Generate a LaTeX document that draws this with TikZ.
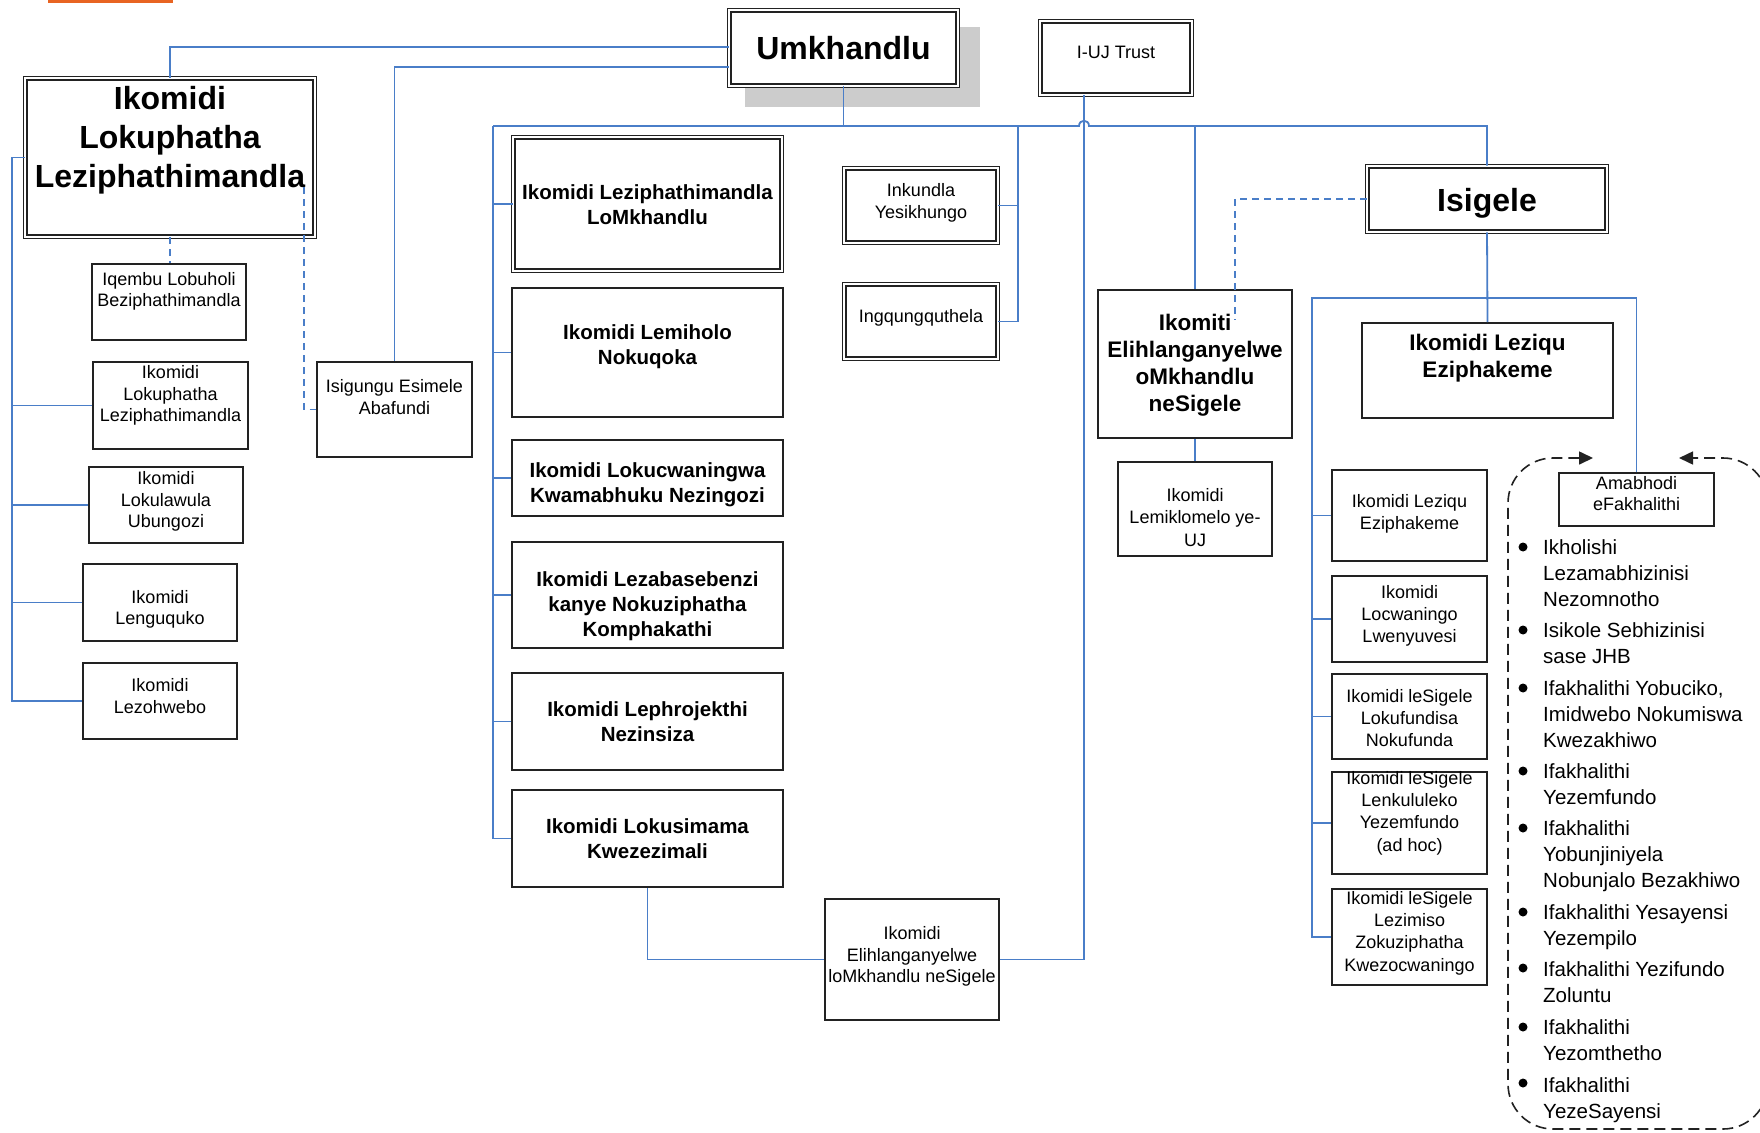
\documentclass[tikz,border=0pt]{standalone}
\usepackage{fontspec}
\setmainfont{Liberation Sans}
\usetikzlibrary{arrows.meta}
\definecolor{lnc}{RGB}{74,126,200}
\definecolor{boxc}{RGB}{34,34,34}
\definecolor{shad}{RGB}{204,204,204}
\definecolor{orng}{RGB}{232,100,34}
\tikzset{
  sbox/.style={rectangle, draw=boxc, line width=1.8pt, fill=white, inner sep=0pt},
  dbox/.style={rectangle, draw=boxc, line width=1.2pt, double=white, double distance=2.2pt, fill=white, inner sep=0pt},
  conn/.style={draw=lnc, line width=1.8pt},
  dconn/.style={conn, dash pattern=on 7pt off 5pt},
  dashloop/.style={draw=boxc, line width=1.6pt, dash pattern=on 11pt off 6pt, rounded corners=45pt},
  regt/.style={font=\fontsize{18}{21.5}\selectfont, align=center, inner sep=0pt},
  regr/.style={font=\fontsize{18}{22.3}\selectfont, align=center, inner sep=0pt},
  midb/.style={font=\bfseries\fontsize{20.5}{25}\selectfont, align=center, inner sep=0pt},
  rb/.style={font=\bfseries\fontsize{22.5}{27}\selectfont, align=center, inner sep=0pt},
  ttl/.style={font=\bfseries\fontsize{32}{39}\selectfont, align=center, inner sep=0pt},
  lst/.style={font=\fontsize{20.5}{26}\selectfont, align=left, anchor=west, inner sep=0pt},
  bul/.style={circle, fill=black, inner sep=0pt, minimum size=9pt}
}
\newcommand\mkbox[8]{%
  \node[sbox, minimum width={#4-#2-1.8}, minimum height={#5-#3-1.8}] (#1) at ({(#2+#4)/2},{(#3+#5)/2}) {};
  \node[#6] (#1-t) at ({(#2+#4)/2},#7) {#8};}
\newcommand\mkdbox[8]{%
  \node[dbox, minimum width={#4-#2-4.6}, minimum height={#5-#3-4.6}] (#1) at ({(#2+#4)/2},{(#3+#5)/2}) {};
  \node[#6] (#1-t) at ({(#2+#4)/2},#7) {#8};}
\begin{document}
\begin{tikzpicture}[x=1pt,y=-1pt]
\fill[white] (0,0) rectangle (1760,1132);
\useasboundingbox (0,0) rectangle (1760,1132);
\clip (0,0) rectangle (1760,1132);
\fill[orng] (48,0) rectangle (173,3);
\fill[shad] (745,27) rectangle (980,107);

% left group
\mkdbox{big}{23}{76}{317}{239}{ttl}{140.4}{Ikomidi\\Lokuphatha\\Leziphathimandla}
\mkbox{iqembu}{91}{263}{247}{341}{regt}{291.4}{Iqembu Lobuholi\\Beziphathimandla}
\mkbox{lokup}{92}{361}{249}{450}{regt}{395.4}{Ikomidi\\Lokuphatha\\Leziphathimandla}
\mkbox{lokul}{88}{466}{244}{544}{regt}{501.4}{Ikomidi\\Lokulawula\\Ubungozi}
\mkbox{lengu}{82}{563}{238}{642}{regt}{609.4}{Ikomidi\\Lenguquko}
\mkbox{lezoh}{82}{662}{238}{740}{regt}{696}{Ikomidi\\Lezohwebo}
\mkbox{isigu}{316}{361}{473}{458}{regt}{397}{Isigungu Esimele\\Abafundi}

% middle group
\mkdbox{umk}{727}{8}{960}{88}{ttl}{48}{Umkhandlu}
\mkdbox{iuj}{1038}{19}{1194}{97}{regt}{52}{I-UJ Trust}
\mkdbox{lomkh}{511}{135}{784}{273}{midb}{205}{Ikomidi Leziphathimandla\\LoMkhandlu}
\mkbox{lemih}{511}{287}{784}{418}{midb}{347}{Ikomidi Lemiholo\\Nokuqoka}
\mkbox{lokuc}{511}{439}{784}{517}{midb}{485}{Ikomidi Lokucwaningwa\\Kwamabhuku Nezingozi}
\mkbox{lezab}{511}{541}{784}{649}{midb}{606}{Ikomidi Lezabasebenzi\\kanye Nokuziphatha\\Komphakathi}
\mkbox{lephr}{511}{672}{784}{771}{midb}{721.5}{Ikomidi Lephrojekthi\\Nezinsiza}
\mkbox{lokus}{511}{789}{784}{888}{midb}{838.5}{Ikomidi Lokusimama\\Kwezezimali}
\mkdbox{inkun}{842}{166}{1000}{245}{regt}{203}{Inkundla\\Yesikhungo}
\mkdbox{ingqu}{842}{282}{1000}{361}{regt}{318}{Ingqungquthela}
\mkbox{elihl}{824}{898}{1000}{1021}{regt}{956.4}{Ikomidi\\Elihlanganyelwe\\loMkhandlu neSigele}

% right group
\mkdbox{isige}{1365}{164}{1609}{234}{ttl}{203.4}{Isigele}
\mkbox{ikomt}{1097}{289}{1293}{439}{rb}{365.4}{Ikomiti\\Elihlanganyelwe\\oMkhandlu\\neSigele}
\mkbox{lzqb}{1361}{322}{1614}{419}{rb}{358}{Ikomidi Leziqu\\Eziphakeme}
\mkbox{lemik}{1117}{461}{1273}{557}{regr}{517.5}{Ikomidi\\Lemiklomelo ye-\\UJ}
\mkbox{rqa}{1331}{469}{1488}{562}{regr}{514}{Ikomidi Leziqu\\Eziphakeme}
\mkbox{rqb}{1331}{575}{1488}{663}{regr}{616}{Ikomidi\\Locwaningo\\Lwenyuvesi}
\mkbox{rqc}{1331}{673}{1488}{760}{regr}{718}{Ikomidi leSigele\\Lokufundisa\\Nokufunda}
\mkbox{rqd}{1331}{771}{1488}{875}{regr}{813}{Ikomidi leSigele\\Lenkululeko\\Yezemfundo\\(ad hoc)}
\mkbox{rqe}{1331}{888}{1488}{986}{regr}{933}{Ikomidi leSigele\\Lezimiso\\Zokuziphatha\\Kwezocwaningo}
\mkbox{amab}{1558}{472}{1715}{527}{regt}{493.5}{Amabhodi\\eFakhalithi}

% coordinates
\coordinate (l1) at (0,47);
\coordinate (l2) at (0,67);
\coordinate (lb) at (12,0);
\coordinate (mb) at (493,126);
\coordinate (ib) at (1018,126);
\coordinate (rb) at (1312,298);
\coordinate (dsA) at (304,187);
\coordinate (dsB) at (1235,320);

% left connectors
\draw[conn] (umk.west |- l1) -| (big.north);
\draw[conn] (umk.west |- l2) -| (isigu.north);
\draw[conn] (big.west) -| (lb |- lezoh.west) -- (lezoh.west);
\foreach \n in {lokup,lokul,lengu} {\draw[conn] (lb |- \n.west) -- (\n.west);}
\draw[dconn] (big.south) -- (big.south |- iqembu.north);
\draw[dconn] (dsA) |- (isigu.west);

% middle connectors
\draw[conn] (umk.south) -- (umk.south |- mb);
\draw[conn] (mb) -- (1079,126) .. controls (1079,119) and (1089,119) .. (1089,126) -- (isige.north |- mb) -- (isige.north);
\draw[conn] (mb) -- (mb |- lokus.west) -- (lokus.west);
\foreach \n in {lomkh,lemih,lokuc,lezab,lephr} {\draw[conn] (mb |- \n.west) -- (\n.west);}
\draw[conn] (ib) |- (ingqu.east);
\draw[conn] (inkun.east) -- (ib |- inkun.east);
\draw[conn] ([xshift=-32pt]iuj.south) |- (elihl.east);
\draw[conn] (lokus.south) |- (elihl.west);
\draw[conn] (ikomt.north |- mb) -- (ikomt.north);
\draw[conn] (ikomt.south) -- (lemik.north);

% right connectors
\draw[dconn] (isige.west) -| (dsB);
\draw[conn] (isige.south) -- (lzqb.north);
\draw[conn] (rqe.west) -| (rb) -| (amab.north);
\foreach \n in {rqa,rqb,rqc,rqd} {\draw[conn] (rb |- \n.west) -- (\n.west);}

% dashed loop
\draw[dashloop, {Triangle[length=14pt,width=13pt]}-{Triangle[length=14pt,width=13pt]}]
  (1593,458) -- (1508,458) -- (1508,1129) -- (1768,1129) -- (1768,458) -- (1679,458);

% bullet list
\node[bul] (b1) at (1523,547) {};
\node[bul] (b2) at (1523,630) {};
\node[bul] (b3) at (1523,688) {};
\node[bul] (b4) at (1523,771) {};
\node[bul] (b5) at (1523,828) {};
\node[bul] (b6) at (1523,912) {};
\node[bul] (b7) at (1523,968) {};
\node[bul] (b8) at (1523,1027) {};
\node[bul] (b9) at (1523,1083) {};
\node[lst] (i1) at (1543,573) {Ikholishi\\Lezamabhizinisi\\Nezomnotho};
\node[lst] (i2) at (1543,643.5) {Isikole Sebhizinisi\\sase JHB};
\node[lst] (i3) at (1543,714) {Ifakhalithi Yobuciko,\\Imidwebo Nokumiswa\\Kwezakhiwo};
\node[lst] (i4) at (1543,784) {Ifakhalithi\\Yezemfundo};
\node[lst] (i5) at (1543,856) {Ifakhalithi\\Yobunjiniyela\\Nobunjalo Bezakhiwo};
\node[lst] (i6) at (1543,926.7) {Ifakhalithi Yesayensi\\Yezempilo};
\node[lst] (i7) at (1543,982) {Ifakhalithi Yezifundo\\Zoluntu};
\node[lst] (i8) at (1543,1040) {Ifakhalithi\\Yezomthetho};
\node[lst] (i9) at (1543,1099.7) {Ifakhalithi\\YezeSayensi};
\end{tikzpicture}
\end{document}
